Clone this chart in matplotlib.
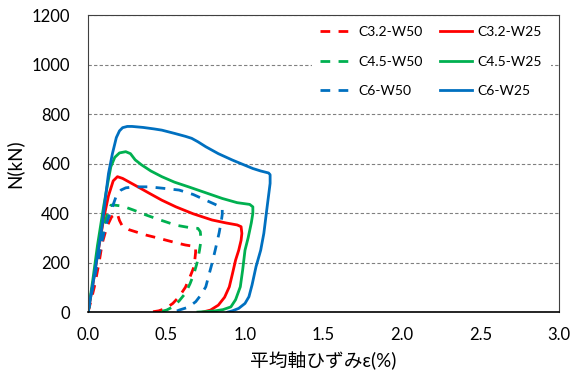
import matplotlib
matplotlib.use("Agg")
import matplotlib.pyplot as plt

plt.rcParams["font.family"] = ["Lato", "Noto Sans CJK JP", "DejaVu Sans"]

# strain (%) / axial force (kN)
c32_w50_x = [0.0, 0.02, 0.04, 0.07, 0.09, 0.12, 0.15, 0.185, 0.20, 0.22, 0.26, 0.30, 0.37, 0.44, 0.50, 0.56, 0.62, 0.67, 0.686,
             0.685, 0.68, 0.67, 0.65, 0.62, 0.58, 0.54, 0.495, 0.45, 0.40]
c32_w50_y = [0, 50, 102, 200, 278, 345, 385, 400, 370, 345, 333, 325, 311, 300, 290, 280, 271, 266, 264,
             240, 210, 175, 143, 100, 62, 35, 15, 5, 0]

c32_w25_x = [0.0, 0.03, 0.06, 0.10, 0.13, 0.16, 0.187, 0.22, 0.26, 0.32, 0.39, 0.47, 0.56, 0.67, 0.79, 0.88, 0.95, 0.975,
             0.98, 0.975, 0.96, 0.94, 0.92, 0.90, 0.87, 0.83, 0.78, 0.73]
c32_w25_y = [0, 110, 230, 380, 470, 530, 547, 540, 526, 505, 480, 452, 425, 397, 372, 360, 352, 345,
             318, 290, 250, 210, 155, 102, 60, 28, 8, 0]

c45_w50_x = [0.0, 0.035, 0.07, 0.10, 0.125, 0.146, 0.17, 0.22, 0.29, 0.37, 0.46, 0.56, 0.64, 0.70, 0.715,
             0.72, 0.71, 0.695, 0.675, 0.65, 0.62, 0.58, 0.54, 0.50, 0.45]
c45_w50_y = [0, 130, 278, 345, 400, 432, 432, 428, 412, 392, 372, 351, 342, 338, 325,
             291, 250, 200, 156, 115, 76, 45, 21, 8, 0]

c45_w25_x = [0.0, 0.03, 0.06, 0.10, 0.125, 0.145, 0.17, 0.20, 0.24, 0.27, 0.30, 0.34, 0.40, 0.47, 0.55, 0.64, 0.75, 0.855, 0.95, 1.03, 1.05,
             1.05, 1.04, 1.02, 1.00, 0.985, 0.97, 0.94, 0.91, 0.86, 0.81, 0.75, 0.70]
c45_w25_y = [0, 130, 270, 430, 520, 587, 625, 643, 648, 640, 615, 595, 570, 547, 525, 506, 482, 459, 442, 435, 425,
             399, 360, 300, 250, 170, 102, 50, 21, 10, 5, 2, 0]

c6_w50_x = [0.0, 0.03, 0.06, 0.09, 0.11, 0.135, 0.155, 0.18, 0.21, 0.24, 0.27, 0.32, 0.39, 0.48, 0.58, 0.67, 0.75, 0.81, 0.855,
            0.855, 0.85, 0.835, 0.81, 0.79, 0.77, 0.75, 0.72, 0.686, 0.64, 0.58, 0.55]
c6_w50_y = [0, 100, 200, 290, 345, 390, 425, 470, 493, 502, 504, 506, 506, 500, 493, 475, 452, 435, 419,
            395, 372, 320, 250, 197, 150, 102, 70, 42, 20, 8, 0]

c6_w25_x = [0.0, 0.03, 0.06, 0.09, 0.11, 0.13, 0.155, 0.18, 0.20, 0.22, 0.25, 0.28, 0.35, 0.42, 0.47, 0.55, 0.62, 0.66, 0.70, 0.75,
            0.83, 0.92, 1.00, 1.05, 1.10, 1.15, 1.16,
            1.16, 1.15, 1.14, 1.12, 1.10, 1.07, 1.045, 1.025, 1.00, 0.96, 0.92, 0.89]
c6_w25_y = [0, 110, 230, 350, 460, 560, 640, 705, 732, 745, 750, 750, 746, 740, 735, 722, 710, 702, 688, 668,
            640, 614, 593, 580, 570, 562, 555,
            520, 470, 420, 318, 250, 183, 110, 62, 35, 15, 5, 0]

labels = ["C3.2-W50", "C3.2-W25", "C4.5-W50", "C4.5-W25", "C6-W50", "C6-W25"]
red, green, blue = "#FF0000", "#00B050", "#0070C0"

fig = plt.figure(figsize=(5.72, 3.76), dpi=100)
ax = fig.add_axes([0.154, 0.170, 0.823, 0.790])

dash = (0, (3.5, 3))
lw = 2.0
h = []
h += ax.plot(c32_w50_x, c32_w50_y, color=red, lw=lw, linestyle=dash, label=labels[0])
h += ax.plot(c32_w25_x, c32_w25_y, color=red, lw=lw, label=labels[1])
h += ax.plot(c45_w50_x, c45_w50_y, color=green, lw=lw, linestyle=dash, label=labels[2])
h += ax.plot(c45_w25_x, c45_w25_y, color=green, lw=lw, label=labels[3])
h += ax.plot(c6_w50_x, c6_w50_y, color=blue, lw=lw, linestyle=dash, label=labels[4])
h += ax.plot(c6_w25_x, c6_w25_y, color=blue, lw=lw, label=labels[5])

ax.set_xlim(0, 3.0)
ax.set_ylim(0, 1200)
ax.set_xticks([0, 0.5, 1.0, 1.5, 2.0, 2.5, 3.0])
ax.set_xticklabels(["0.0", "0.5", "1.0", "1.5", "2.0", "2.5", "3.0"])
ax.set_yticks(range(0, 1201, 200))
ax.tick_params(length=0, labelsize=12)
ax.tick_params(axis="x", pad=11)
ax.tick_params(axis="y", pad=13)
ax.yaxis.grid(True, color="#808080", linestyle=(0, (3, 2)), linewidth=0.8)
ax.set_axisbelow(True)

for side in ["top", "left", "right"]:
    ax.spines[side].set_linestyle((0, (2, 1)))
    ax.spines[side].set_color("#404040")
    ax.spines[side].set_linewidth(0.8)
ax.spines["bottom"].set_color("black")
ax.spines["bottom"].set_linewidth(1.2)

ax.set_xlabel("平均軸ひずみε(%)", fontsize=13.5, labelpad=6)
ax.set_ylabel("N(kN)", fontsize=13.5, labelpad=6)

# legend filled column-wise: W50 in the first column, W25 in the second
order = [0, 2, 4, 1, 3, 5]
leg = ax.legend([h[i] for i in order], [labels[i] for i in order], ncol=2, loc="upper right",
                bbox_to_anchor=(0.965, 0.962), frameon=True,
                fontsize=10, handlelength=2.3, columnspacing=1.2, labelspacing=1.25,
                handletextpad=0.45, borderpad=0.0, borderaxespad=0.0)
leg.get_frame().set_edgecolor("none")
leg.get_frame().set_facecolor("white")
leg.get_frame().set_alpha(1)
leg.get_frame().set_boxstyle("square", pad=0.6)

fig.savefig("out.png", dpi=100)
